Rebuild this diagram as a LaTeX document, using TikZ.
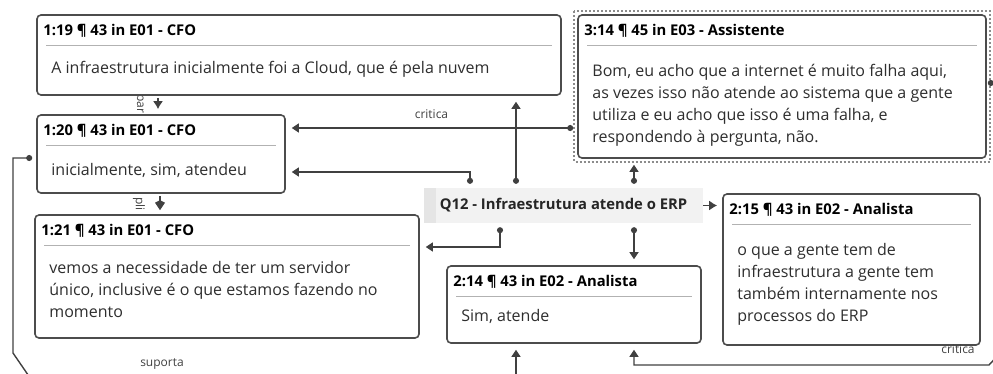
\documentclass[tikz,border=0pt]{standalone}
\usepackage{fontspec}
\setmainfont{Open Sans}
\usetikzlibrary{arrows.meta,positioning}

\begin{document}
\begin{tikzpicture}
	 [x=1pt,y=-1pt,
	 quote/.style={draw=black!70,line width=1.6pt,rounded corners=4pt,fill=white,inner sep=0pt},
	 head/.style={anchor=base west,inner sep=0pt,font=\bfseries\fontsize{14.8}{17}\selectfont},
	 body/.style={anchor=north west,align=left,inner sep=0pt,text=black!82,font=\fontsize{16}{22}\selectfont},
	 sep/.style={draw=black!30,line width=1pt},
	 link/.style={draw=black!75,line width=1.4pt},
	 tip/.style={link,shorten <=4pt,shorten >=6pt,{Circle[length=6pt]}-{Triangle[length=7pt,width=9pt]}},
	 lbl/.style={font=\fontsize{12}{14}\selectfont,text=black!75,inner sep=0pt}]
	\clip (0,0) rectangle (993,373);

	% labels of the short links, hidden in part by the boxes
	\node[lbl,rotate=-90] (lpar) at (139,104) {par};
	\node[lbl,rotate=-90] (lpli) at (139,204) {pli};

	\node (q119)[quote,minimum width=524,minimum height=80] at (299,55) {};
	\node (q120)[quote,minimum width=248,minimum height=78] at (161,154) {};
	\node (q121)[quote,minimum width=384,minimum height=123] at (227,276.5) {};
	\node (q314)[quote,minimum width=408,minimum height=143] at (782,86.5) {};
	\node (q214)[quote,minimum width=254,minimum height=77] at (574,304.5) {};
	\node (q215)[quote,minimum width=257,minimum height=151] at (851.5,269.5) {};
	\draw[black!45,dotted,line width=2pt] ([shift={(-3,-3)}]q314.north west) rectangle ([shift={(3,3)}]q314.south east);

	\foreach \n/\h in {q119/{1:19 ¶ 43 in E01 - CFO},q120/{1:20 ¶ 43 in E01 - CFO},q121/{1:21 ¶ 43 in E01 - CFO},
	  q314/{3:14 ¶ 45 in E03 - Assistente},q214/{2:14 ¶ 43 in E02 - Analista},q215/{2:15 ¶ 43 in E02 - Analista}}
	{
	  \node[head] (\n h) at ([shift={(7,21)}]\n.north west) {\h};
	  \draw[sep] ([shift={(10,31)}]\n.north west) -- ([shift={(-10,31)}]\n.north east);
	}

	\node[body] (q119b) at ([shift={(15,44)}]q119.north west) {\strut A infraestrutura inicialmente foi a Cloud, que é pela nuvem};
	\node[body] (q120b) at ([shift={(15,46)}]q120.north west) {\strut inicialmente, sim, atendeu};
	\node[body] (q121b) at ([shift={(15,44)}]q121.north west) {\strut vemos a necessidade de ter um servidor\\único, inclusive é o que estamos fazendo no\\momento};
	\node[body] (q314b) at ([shift={(15,47)}]q314.north west) {\strut Bom, eu acho que a internet é muito falha aqui,\\as vezes isso não atende ao sistema que a gente\\utiliza e eu acho que isso é uma falha, e\\respondendo à pergunta, não.};
	\node[body] (q214b) at ([shift={(15,41)}]q214.north west) {\strut Sim, atende};
	\node[body] (q215b) at ([shift={(15,47)}]q215.north west) {\strut o que a gente tem de\\infraestrutura a gente tem\\também internamente nos\\processos do ERP};

	\node (q12)[fill=black!5,minimum width=279,minimum height=35,inner sep=0pt,
	  font=\bfseries\fontsize{14.8}{17}\selectfont,text=black!85,
	  path picture={\fill[black!10] (path picture bounding box.north west) rectangle ([xshift=12pt]path picture bounding box.south west);}]
	  at (563.5,205.5) {Q12 - Infraestrutura atende o ERP};

	\coordinate (offb) at (516,390);
	\coordinate (offr) at (1003,350);
	\coordinate (offl) at (35,385);
	\coordinate (offd) at (1005,83);

	\draw[tip] (516,0 |- q12.north) -- (516,0 |- q119.south);
	\draw[tip] (634,0 |- q12.north) -- (634,0 |- q314.south);
	\draw[tip] (470,0 |- q12.north) |- (q120.east |- 0,172);
	\draw[tip] (500,0 |- q12.south) |- (q121.east |- 0,247);
	\draw[tip] (634,0 |- q12.south) -- (634,0 |- q214.north);
	\draw[tip] (q314.west |- 0,128) -- (q120.east |- 0,128) node[lbl,midway,above=9pt] (lcrit1) {critica};
	\draw[link,shorten >=5pt,-{Latex[length=8pt,width=10pt]}] (q12.east) -- (q215.west |- q12.east);
	\draw[link,shorten <=2pt,shorten >=5pt,-{Latex[length=8pt,width=10pt]}] (158,0 |- q119.south) -- (158,0 |- q120.north);
	\draw[link,shorten <=2pt,shorten >=4pt,-{Kite[length=10pt,width=10pt]}] (160,0 |- q120.south) -- (160,0 |- q121.north);
	\draw[link,shorten <=4pt,{Circle[length=6pt]}-] (q120.west |- 0,158) -- (13,158) -- (13,353) -- (offl);
	\draw[link,shorten <=1pt,{Circle[length=6pt]}-] (q314.east |- offd) -- (offd);
	\draw[link,shorten >=6pt,-{Triangle[length=7pt,width=9pt]}] (offb) -- (offb |- q214.south);
	\draw[link,shorten >=6pt,-{Triangle[length=7pt,width=9pt]}] (offr) -- (989,365) -| (634,0 |- q214.south);
	\node[lbl] (lsup) at (162,364) {suporta};
	\node[lbl] (lcrit2) at (958,349) {critica};
\end{tikzpicture}
\end{document}
